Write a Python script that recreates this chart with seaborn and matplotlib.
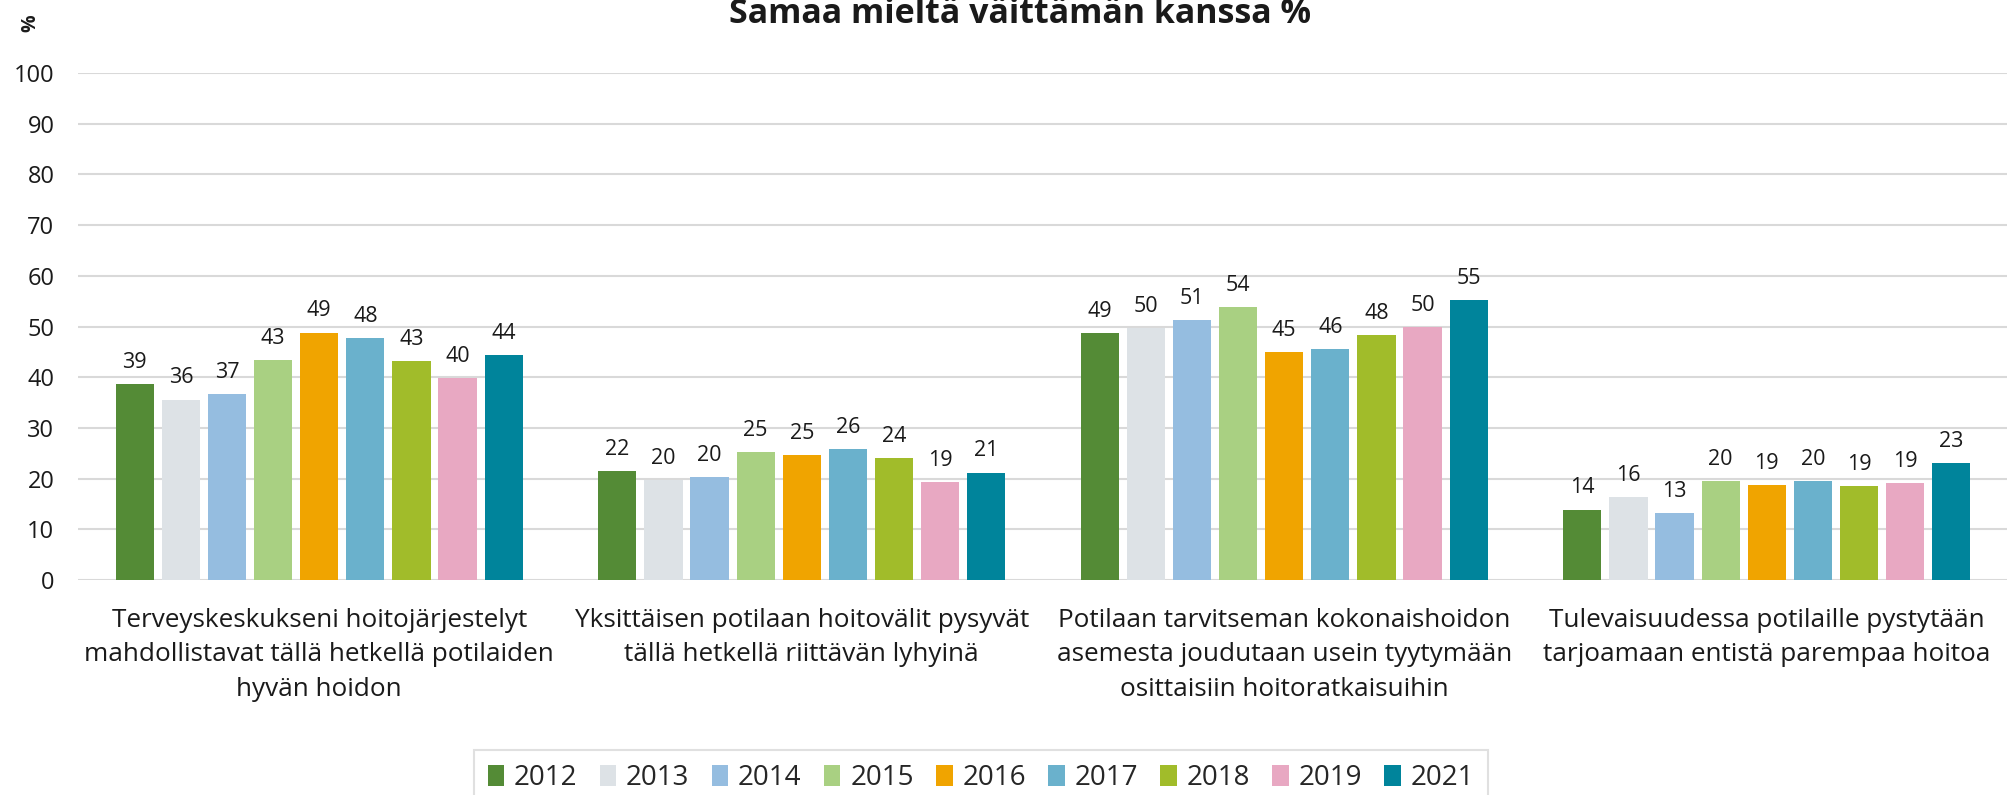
import pandas as pd
import matplotlib
matplotlib.use('Agg')
import matplotlib.pyplot as plt
import seaborn as sns

# data
categories = [
    "Terveyskeskukseni hoitojärjestelyt\nmahdollistavat tällä hetkellä potilaiden\nhyvän hoidon",
    "Yksittäisen potilaan hoitovälit pysyvät\ntällä hetkellä riittävän lyhyinä",
    "Potilaan tarvitseman kokonaishoidon\nasemesta joudutaan usein tyytymään\nosittaisiin hoitoratkaisuihin",
    "Tulevaisuudessa potilaille pystytään\ntarjoamaan entistä parempaa hoitoa",
]
years = ['2012', '2013', '2014', '2015', '2016', '2017', '2018', '2019', '2021']
colors = ['#548B36', '#DDE2E6', '#95BDE0', '#A9D082', '#F0A400',
          '#6AB1CC', '#A1BC2A', '#E8A8C2', '#00849B']

vals_2012 = [38.6, 21.5, 48.7, 13.9]
vals_2013 = [35.6, 19.8, 49.7, 16.3]
vals_2014 = [36.6, 20.3, 51.2, 13.2]
vals_2015 = [43.3, 25.2, 53.8, 19.5]
vals_2016 = [48.8, 24.6, 45.0, 18.8]
vals_2017 = [47.8, 25.8, 45.5, 19.5]
vals_2018 = [43.2, 24.1, 48.3, 18.6]
vals_2019 = [39.9, 19.4, 49.9, 19.2]
vals_2021 = [44.4, 21.2, 55.2, 23.1]

title = 'Samaa mieltä väittämän kanssa %'

series = [vals_2012, vals_2013, vals_2014, vals_2015, vals_2016,
          vals_2017, vals_2018, vals_2019, vals_2021]
rows = []
for y, vals in zip(years, series):
    for c, v in zip(categories, vals):
        rows.append({'kysymys': c, 'vuosi': y, 'osuus': v})
df = pd.DataFrame(rows)

sns.set_theme(style='white')
plt.rcParams['font.family'] = ['Open Sans', 'DejaVu Sans']

fig = plt.figure(figsize=(20.08, 7.95), dpi=100)
ax = fig.add_axes([78 / 2008, 1 - 580 / 795, 1 - 78 / 2008, (580 - 73) / 795])

sns.barplot(data=df, x='kysymys', y='osuus', hue='vuosi', order=categories,
            hue_order=years, palette=colors, saturation=1, width=0.86, gap=0.17,
            errorbar=None, linewidth=0, ax=ax)

for cont in ax.containers:
    ax.bar_label(cont, fmt='%.0f', padding=8, fontsize=15.5, color='#1a1a1a')

ax.set_ylim(0, 100)
ax.set_yticks(range(0, 101, 10))
ax.set_xlim(-0.5, 3.5)
ax.yaxis.grid(True, color='#D9D9D9', linewidth=1.5)
ax.set_axisbelow(True)
for s in ax.spines.values():
    s.set_visible(False)
ax.tick_params(axis='y', length=0, pad=17, labelsize=17, labelcolor='#1a1a1a')
ax.tick_params(axis='x', length=0, pad=20, labelsize=18.8, labelcolor='#1a1a1a')
ax.set_xlabel('')
ax.set_ylabel('')

handles, labels = ax.get_legend_handles_labels()
ax.get_legend().remove()
leg = fig.legend(handles, labels, loc='upper center', bbox_to_anchor=(981 / 2008, 1 - 736 / 795),
                 ncol=9, fontsize=20, frameon=True, fancybox=False, edgecolor='#D9D9D9',
                 handlelength=0.6, handleheight=0.8, handletextpad=0.35, columnspacing=0.8,
                 borderpad=0.5)
leg.get_frame().set_linewidth(1.5)

fig.text(1020 / 2008, 1 - 23 / 795, title, ha='center', va='baseline',
         fontsize=24.5, fontweight='bold', color='#1a1a1a')
fig.text(30 / 2008, 1 - 23 / 795, '%', rotation=90, ha='center', va='center',
         fontsize=14, fontweight='bold', color='#1a1a1a')

# rivivälit kategorianimiin (asetetaan piirron jälkeen, jotta ne pysyvät)
fig.canvas.draw()
for t in ax.get_xticklabels():
    t.set_linespacing(1.5)

fig.savefig('out.png', dpi=100)
